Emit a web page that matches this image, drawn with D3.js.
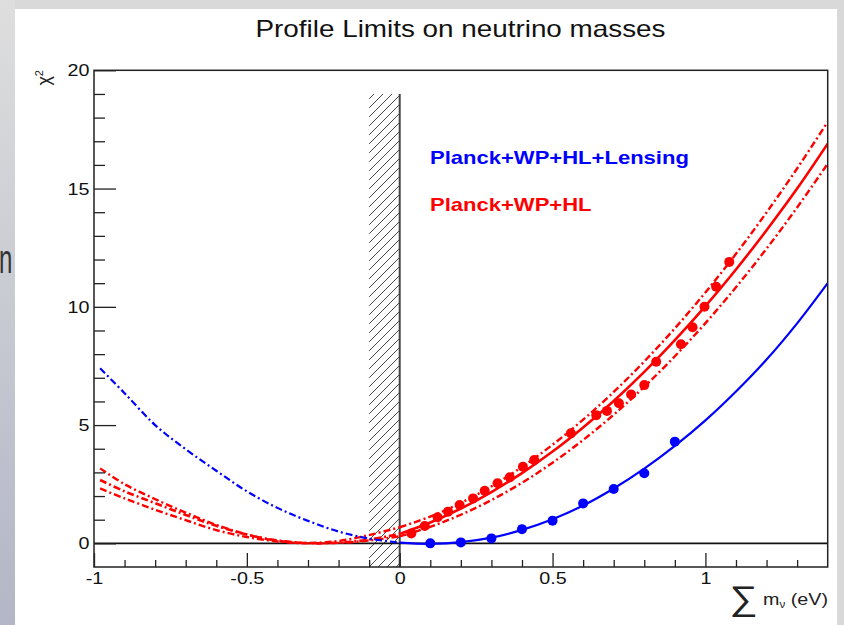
<!DOCTYPE html>
<html><head><meta charset="utf-8">
<script src="https://cdn.jsdelivr.net/npm/d3@7"></script>
<style>
body{margin:0;background:#d8d8d8;}
svg{display:block;font-family:"Liberation Sans",Arial,Helvetica,sans-serif;}
</style>
</head><body>
<svg id="c" width="844" height="625"></svg>
<script>
// ---- data ----
const massGrid = [-0.98,-0.9,-0.8,-0.7,-0.6,-0.5,-0.4,-0.3,-0.2,-0.1,0,
                  0.1,0.2,0.3,0.4,0.5,0.6,0.7,0.8,0.9,1.0,1.1,1.2,1.3,1.4];
const blueChi2 = [7.4,6.35,5.0,3.98,3.07,2.2,1.5,0.95,0.5,0.2,0.03,
                  -0.02,0.05,0.24,0.57,1.02,1.6,2.32,3.16,4.12,5.2,6.42,7.77,9.3,11.0];
const redChi2 = [2.68,2.2,1.7,1.2,0.74,0.37,0.12,0.01,0.03,0.16,0.40,
                 0.88,1.47,2.17,2.97,3.88,4.90,6.02,7.25,8.59,10.03,11.58,13.24,15.0,16.9];
const redUpperChi2 = [3.17,2.5,1.87,1.3,0.78,0.38,0.11,0.02,0.1,0.35,0.68,
                      1.13,1.71,2.41,3.23,4.17,5.23,6.40,7.69,9.09,10.61,12.24,13.99,15.85,17.82];
const redLowerChi2 = [2.32,1.9,1.42,0.98,0.56,0.27,0.08,0.0,0.02,0.12,0.30,
                      0.7,1.21,1.83,2.56,3.41,4.37,5.44,6.62,7.91,9.31,10.83,12.46,14.2,16.05];
const bluePointMass = [0.1,0.2,0.3,0.4,0.5,0.6,0.7,0.8,0.9];
const bluePointChi2 = [0.0,0.04,0.21,0.6,0.96,1.69,2.3,2.96,4.3];
const redPointMass = [0.038,0.082,0.124,0.158,0.196,0.24,0.278,0.32,0.36,0.403,0.44,0.56,
                      0.643,0.678,0.717,0.757,0.80,0.839,0.92,0.958,0.997,1.035,1.078];
const redPointChi2 = [0.42,0.73,1.1,1.34,1.62,1.9,2.22,2.54,2.79,3.24,3.52,4.65,
                      5.42,5.6,5.92,6.29,6.69,7.68,8.42,9.14,10.0,10.85,11.9];
const excludedBand = [-0.1, 0];      // hatched region in mass
const excludedTop = 19;
const xTickValues = [-1,-0.5,0,0.5,1];
const xTickLabels = ["-1","-0.5","0","0.5","1"];
const xMinorTicks = [-0.9,-0.8,-0.7,-0.6,-0.4,-0.3,-0.2,-0.1,0.1,0.2,0.3,0.4,0.6,0.7,0.8,0.9,1.1,1.2,1.3];
const yTickValues = [0,5,10,15,20];
const yTickLabels = ["0","5","10","15","20"];
const yMinorTicks = [1,2,3,4,6,7,8,9,11,12,13,14,16,17,18,19];
const legendLabels = ["Planck+WP+HL+Lensing","Planck+WP+HL"];
const titleText = "Profile Limits on neutrino masses";

// ---- drawing ----
const SX = 1.16; // horizontal stretch of the original screenshot
const svg = d3.select("#c");
const W = 844, H = 625;
const defs = svg.append("defs");
const grad = defs.append("linearGradient").attr("id","lg").attr("x1",0).attr("y1",0).attr("x2",0).attr("y2",1);
grad.append("stop").attr("offset","0%").attr("stop-color","#dedede");
grad.append("stop").attr("offset","100%").attr("stop-color","#b2b6c6");
const P = 9;
const pat = defs.append("pattern").attr("id","hatch").attr("patternUnits","userSpaceOnUse")
  .attr("width",P).attr("height",P);
pat.append("path").attr("d",`M-1,${P+1} L${P+1},-1 M-1,1 L1,-1 M${P-1},${P+1} L${P+1},${P-1}`)
  .attr("stroke","#333").attr("stroke-width",0.9);

svg.append("rect").attr("width",W).attr("height",H).attr("fill","#d9d9d9");
svg.append("rect").attr("x",0).attr("y",0).attr("width",15).attr("height",H).attr("fill","url(#lg)");
svg.append("rect").attr("x",15).attr("y",9).attr("width",822).attr("height",H-9).attr("fill","#fff");
svg.append("text").attr("transform","translate(-1,273) scale(0.6,1)").attr("font-size",40)
  .attr("fill","#333").text("n");

const x = d3.scaleLinear().domain([-1,1.4]).range([94,827.7]);
const y = d3.scaleLinear().domain([-1,20]).range([567,70.3]);

defs.append("clipPath").attr("id","clip").append("rect")
  .attr("x",x(-1)).attr("y",y(20)).attr("width",x(1.4)-x(-1)).attr("height",y(-1)-y(20));

const plot = svg.append("g").attr("clip-path","url(#clip)");

// hatched excluded band
plot.append("rect").attr("x",x(excludedBand[0])).attr("y",y(excludedTop))
  .attr("width",x(excludedBand[1])-x(excludedBand[0])).attr("height",y(-1)-y(excludedTop))
  .attr("fill","url(#hatch)");
plot.append("line").attr("x1",x(excludedBand[1])).attr("x2",x(excludedBand[1]))
  .attr("y1",y(excludedTop)).attr("y2",y(-1)).attr("stroke","#444").attr("stroke-width",2);

// zero line
plot.append("line").attr("x1",x(-1)).attr("x2",x(1.4)).attr("y1",y(0)).attr("y2",y(0))
  .attr("stroke","#111").attr("stroke-width",1.6);

const line = d3.line().x(d=>x(d[0])).y(d=>y(d[1])).curve(d3.curveCatmullRom);
const pairs = vals => massGrid.map((m,i)=>[m,vals[i]]);
const DASH = "7,3,2,3";

function drawCurve(vals, color, dashAll, w){
  const p = pairs(vals);
  const left = p.filter(d=>d[0]<=0), right = p.filter(d=>d[0]>=0);
  plot.append("path").attr("d",line(left)).attr("fill","none").attr("stroke",color)
    .attr("stroke-width",w).attr("stroke-dasharray",DASH);
  plot.append("path").attr("d",line(right)).attr("fill","none").attr("stroke",color)
    .attr("stroke-width",w).attr("stroke-dasharray",dashAll?DASH:null);
}
drawCurve(redUpperChi2,"#ff0000",true,2.4);
drawCurve(redLowerChi2,"#ff0000",true,2.4);
drawCurve(redChi2,"#ff0000",false,2.6);
drawCurve(blueChi2,"#0000ff",false,2.2);

plot.selectAll(".rp").data(redPointMass).enter().append("circle")
  .attr("cx",d=>x(d)).attr("cy",(d,i)=>y(redPointChi2[i])).attr("r",5).attr("fill","#ff0000");
plot.selectAll(".bp").data(bluePointMass).enter().append("circle")
  .attr("cx",d=>x(d)).attr("cy",(d,i)=>y(bluePointChi2[i])).attr("r",5).attr("fill","#0000ff");

// frame
svg.append("rect").attr("x",x(-1)).attr("y",y(20)).attr("width",x(1.4)-x(-1)).attr("height",y(-1)-y(20))
  .attr("fill","none").attr("stroke","#222").attr("stroke-width",1.5);

// axes
function styleAxis(g){
  g.select(".domain").remove();
  g.selectAll(".tick line").attr("stroke","#222").attr("stroke-width",1.3);
  g.selectAll(".tick text").attr("fill","#111").attr("font-size",17)
    .attr("font-family",'"Liberation Sans",Arial,Helvetica,sans-serif')
    .attr("transform",`scale(${SX},1)`);
}
svg.append("g").attr("transform",`translate(0,${y(-1)})`)
  .call(d3.axisBottom(x).tickValues(xTickValues).tickSize(-14).tickPadding(5)
        .tickFormat((d,i)=>xTickLabels[i])).call(styleAxis);
svg.append("g").attr("transform",`translate(0,${y(-1)})`)
  .call(d3.axisBottom(x).tickValues(xMinorTicks).tickSize(-7).tickFormat("")).call(styleAxis);
svg.append("g").attr("transform",`translate(${x(-1)},0)`)
  .call(d3.axisLeft(y).tickValues(yTickValues).tickSize(-22).tickPadding(4)
        .tickFormat((d,i)=>yTickLabels[i])).call(styleAxis);
svg.append("g").attr("transform",`translate(${x(-1)},0)`)
  .call(d3.axisLeft(y).tickValues(yMinorTicks).tickSize(-11).tickFormat("")).call(styleAxis);

// title
svg.append("text").attr("transform",`translate(460.5,37) scale(${SX},1)`)
  .attr("text-anchor","middle").attr("font-size",24).attr("fill","#111").text(titleText);

// legend texts
const legColors = ["#0000ff","#ff0000"];
const legY = [164,211];
legendLabels.forEach((t,i)=>{
  svg.append("text").attr("transform",`translate(430,${legY[i]}) scale(${SX},1)`)
    .attr("font-size",19).attr("font-weight","bold").attr("fill",legColors[i]).text(t);
});

// y title chi^2
const yt = svg.append("text").attr("transform","translate(50,70) rotate(-90)")
  .attr("text-anchor","end").attr("font-size",18).attr("fill","#222");
yt.append("tspan").text("χ");
yt.append("tspan").attr("font-size",11).attr("dy",-7).text("2");

// x title
const xt = svg.append("text").attr("transform",`translate(828,605) scale(${SX},1)`)
  .attr("text-anchor","end").attr("fill","#222").attr("font-size",17);
xt.append("tspan").attr("font-size",34).attr("dy",5).text("∑");
xt.append("tspan").attr("dy",-5).text(" m");
xt.append("tspan").attr("font-size",10).attr("dy",3).text("ν");
xt.append("tspan").attr("dy",-3).text(" (eV)");
</script>
</body></html>
